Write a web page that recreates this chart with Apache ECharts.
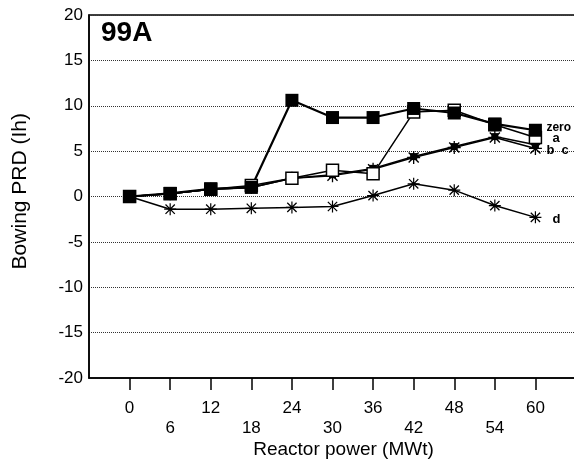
<!DOCTYPE html>
<html>
<head>
<meta charset="utf-8">
<script src="https://cdn.jsdelivr.net/npm/echarts@6/dist/echarts.min.js"></script>
<style>
  html, body { margin: 0; padding: 0; background: #fff; }
  #main { width: 574px; height: 461px; }
</style>
</head>
<body>
<div id="main"></div>
<script>
// reactor power (MWt)
var power = [0, 6, 12, 18, 24, 30, 36, 42, 48, 54, 60];
var xTicks = [0, 6, 12, 18, 24, 30, 36, 42, 48, 54, 60];

// bowing PRD (Ih)
var zeroVals = [0, 0.35, 0.85, 1.0, 10.6, 8.7, 8.7, 9.7, 9.2, 8.0, 7.3];
var aVals    = [0, 0.3, 0.8, 1.2, 2.0, 2.9, 2.5, 9.3, 9.5, 7.9, 6.5];
var bVals    = [0, 0.3, 0.8, 1.0, 2.0, 2.4, 3.1, 4.4, 5.5, 6.6, 5.7];
var cVals    = [0, 0.3, 0.8, 1.0, 2.0, 2.3, 3.0, 4.3, 5.4, 6.5, 5.3];
var dVals    = [0, -1.4, -1.4, -1.3, -1.2, -1.1, 0.1, 1.4, 0.7, -1.0, -2.3];

function pairs(vals) {
  var out = [];
  for (var i = 0; i < power.length; i++) {
    out.push([power[i], vals[i]]);
  }
  return out;
}

// asterisk marker made of thin bars
var asterisk = 'path://M9 0L11 0L11 20L9 20Z M0 9L20 9L20 11L0 11Z M1.5 3L3 1.5L18.5 17L17 18.5Z M17 1.5L18.5 3L3 18.5L1.5 17Z';

var font = 'Liberation Sans, Arial, sans-serif';
var ink = '#000';

var chart = echarts.init(document.getElementById('main'), null, { renderer: 'canvas' });

var option = {
  animation: false,
  backgroundColor: '#fff',
  textStyle: { fontFamily: font, color: ink },
  title: {
    text: '99A',
    left: 96,
    top: 14,
    textStyle: { fontFamily: font, fontSize: 28, fontWeight: 'bold', color: ink }
  },
  grid: {
    left: 89,
    right: -2,
    top: 15,
    bottom: 83,
    outerBoundsMode: 'none',
    containLabel: false,
    show: true,
    borderColor: '#000',
    borderWidth: 1.5,
    backgroundColor: 'transparent'
  },
  xAxis: {
    type: 'value',
    min: -6,
    max: 66,
    name: 'Reactor power (MWt)',
    nameLocation: 'middle',
    nameGap: 62,
    nameMoveOverlap: false,
    nameTextStyle: { fontFamily: font, fontSize: 19, color: ink, padding: [0, 0, 0, 22] },
    axisLine: { onZero: false, lineStyle: { color: '#000', width: 1.5 } },
    axisTick: {
      show: true,
      inside: false,
      length: 12,
      customValues: xTicks,
      lineStyle: { color: '#000', width: 1.5 }
    },
    axisLabel: {
      customValues: xTicks,
      margin: 20,
      fontSize: 17,
      lineHeight: 20,
      color: ink,
      fontFamily: font,
      formatter: function (v) {
        return (v % 12 === 0) ? String(v) : '\n' + v;
      }
    },
    splitLine: { show: false }
  },
  yAxis: {
    type: 'value',
    min: -20,
    max: 20,
    interval: 5,
    axisLine: { show: true, onZero: false, lineStyle: { color: '#000', width: 1.5 } },
    axisTick: { show: false },
    axisLabel: { fontSize: 17, color: ink, fontFamily: font, margin: 6 },
    splitLine: { show: true, lineStyle: { color: '#333', type: 'dotted', width: 1 } }
  },
  graphic: [{
    type: 'text',
    left: 10,
    top: 113,
    rotation: Math.PI / 2,
    style: { text: 'Bowing PRD (Ih)', font: '21px ' + font, fill: ink }
  }],
  series: [
    {
      name: 'd',
      type: 'line',
      data: pairs(dVals),
      symbol: asterisk,
      symbolSize: 12,
      itemStyle: { color: '#000' },
      lineStyle: { color: '#000', width: 1.5 },
      endLabel: { show: true, formatter: 'd', distance: 0, offset: [17, 2], fontSize: 13, fontWeight: 'bold', color: ink }
    },
    {
      name: 'c',
      type: 'line',
      data: pairs(cVals),
      symbol: asterisk,
      symbolSize: 13,
      itemStyle: { color: '#000' },
      lineStyle: { color: '#000', width: 1.5 }
    },
    {
      name: 'b',
      type: 'line',
      data: pairs(bVals),
      symbol: 'rect',
      symbolSize: 7,
      itemStyle: { color: '#000' },
      lineStyle: { color: '#000', width: 1.5 },
      endLabel: { show: true, formatter: 'b  c', distance: 0, offset: [11, 6], fontSize: 13, fontWeight: 'bold', color: ink }
    },
    {
      name: 'a',
      type: 'line',
      data: pairs(aVals),
      symbol: 'rect',
      symbolSize: 12,
      itemStyle: { color: '#fff', borderColor: '#000', borderWidth: 1.5 },
      lineStyle: { color: '#000', width: 1.5 },
      endLabel: { show: true, formatter: 'a', distance: 0, offset: [17, 1], fontSize: 13, fontWeight: 'bold', color: ink }
    },
    {
      name: 'zero',
      type: 'line',
      data: pairs(zeroVals),
      symbol: 'rect',
      symbolSize: 13,
      itemStyle: { color: '#000' },
      lineStyle: { color: '#000', width: 2.2 },
      endLabel: { show: true, formatter: 'zero', distance: 0, offset: [11, -3], fontSize: 12, fontWeight: 'bold', color: ink }
    }
  ]
};

chart.setOption(option);
</script>
</body>
</html>
